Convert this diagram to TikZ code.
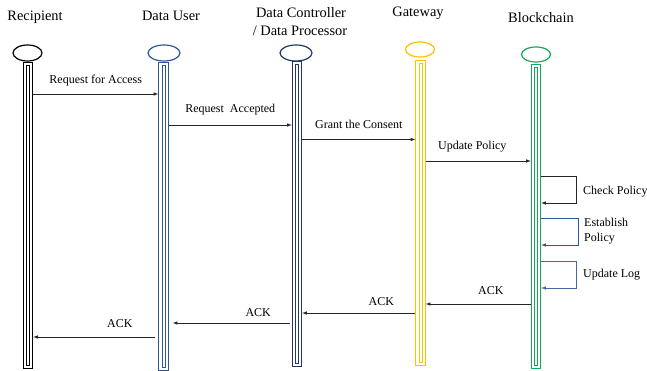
\documentclass[tikz,border=0pt]{standalone}
\usepackage{fontspec}
\setmainfont{Liberation Serif}
\usetikzlibrary{arrows,shapes.geometric}

\definecolor{userblue}{RGB}{47,85,151}
\definecolor{ctrlblue}{RGB}{31,56,100}
\definecolor{gwyellow}{RGB}{255,192,0}
\definecolor{bcgreen}{RGB}{20,168,90}
\definecolor{logblue}{RGB}{68,104,160}

\tikzset{
  head/.style={ellipse, draw, line width=1.2pt, minimum width=29pt, minimum height=16pt, inner sep=0pt},
  life/.style={rectangle, draw=#1, line width=0.9pt, minimum width=9.5pt, inner sep=0pt,
    path picture={\draw[#1, line width=0.9pt] ([xshift=3.2pt,yshift=-3pt]path picture bounding box.north west)
      rectangle ([xshift=-3.2pt,yshift=3pt]path picture bounding box.south east);}},
  title/.style={font=\fontsize{14.4}{17}\selectfont, anchor=base},
  msg/.style={font=\fontsize{12}{14}\selectfont, anchor=base, yshift=10pt},
  note/.style={font=\fontsize{12}{15}\selectfont, anchor=base west, inner sep=0pt},
  call/.style={-latex, line width=0.6pt, draw=black!85}
}

\begin{document}
\begin{tikzpicture}[x=1pt, y=-1pt]
\useasboundingbox (0,0) rectangle (647,371);

\node (RecT) at (35,21) [title] {Recipient};
\node (DUT) at (171,21) [title] {Data User};
\node (DCT) at (301,18) [title] {Data Controller};
\node (DCT2) at (300,36) [title] {/ Data Processor};
\node (GWT) at (418,17) [title] {Gateway};
\node (BCT) at (541,23) [title] {Blockchain};

\node (Rec) at (27.5,53) [head, draw=black] {};
\node (DU) at (164,53) [head, draw=userblue, minimum width=32pt] {};
\node (DC) at (296,53) [head, draw=ctrlblue, minimum width=32pt] {};
\node (GW) at (420,49.5) [head, draw=gwyellow, minimum height=15pt] {};
\node (BC) at (536,54.5) [head, draw=bcgreen, minimum height=15pt] {};

\node (RecL) at (28,215) [life=black, minimum height=306pt] {};
\node (DUL) at (163.5,216) [life=userblue, minimum height=308pt] {};
\node (DCL) at (297,213.5) [life=ctrlblue, minimum height=305pt] {};
\node (GWL) at (420.5,212.5) [life=gwyellow, minimum height=305pt] {};
\node (BCL) at (536,216) [life=bcgreen, minimum height=304pt] {};

\draw [call] (RecL.east |- 0,94) -- (DUL.west |- 0,94) node[midway, msg] {Request for Access};
\draw [call] (DUL.east |- 0,125) -- (DCL.west |- 0,125) node[midway, msg, yshift=2pt] {Request\ \ Accepted};
\draw [call] (DCL.east |- 0,139.5) -- (GWL.west |- 0,139.5) node[midway, msg, yshift=1pt] {Grant the Consent};
\draw [call] (GWL.east |- 0,161) -- (BCL.west |- 0,161) node[midway, msg, xshift=-6pt, yshift=1pt] {Update Policy};

\draw [call] (BCL.east |- 0,176) -- ++(35,0) |- (BCL.east |- 0,203);
\node (chk) at (583,195) [note] {Check Policy};
\draw [call, draw=userblue] (BCL.east |- 0,218) -- ++(37,0) |- (BCL.east |- 0,245);
\node (est) at (584,226) [note] {Establish};
\node (est2) at (584,241) [note] {Policy};
\draw [call, draw=logblue] (BCL.east |- 0,261) -- ++(35,0) |- (BCL.east |- 0,288);
\node (log) at (583,277) [note] {Update Log};

\draw [call] (BCL.west |- 0,304) -- (GWL.east |- 0,304) node[pos=0.38, msg] {ACK};
\draw [call] (GWL.west |- 0,313) -- (DCL.east |- 0,313) node[pos=0.3, msg, yshift=-2pt] {ACK};
\draw [call] ([xshift=-2pt]DCL.west |- 0,323) -- ([xshift=4pt]DUL.east |- 0,323) node[pos=0.27, msg, yshift=-3pt] {ACK};
\draw [call] ([xshift=-3pt]DUL.west |- 0,337) -- (RecL.east |- 0,337) node[pos=0.29, msg] {ACK};
\end{tikzpicture}
\end{document}
